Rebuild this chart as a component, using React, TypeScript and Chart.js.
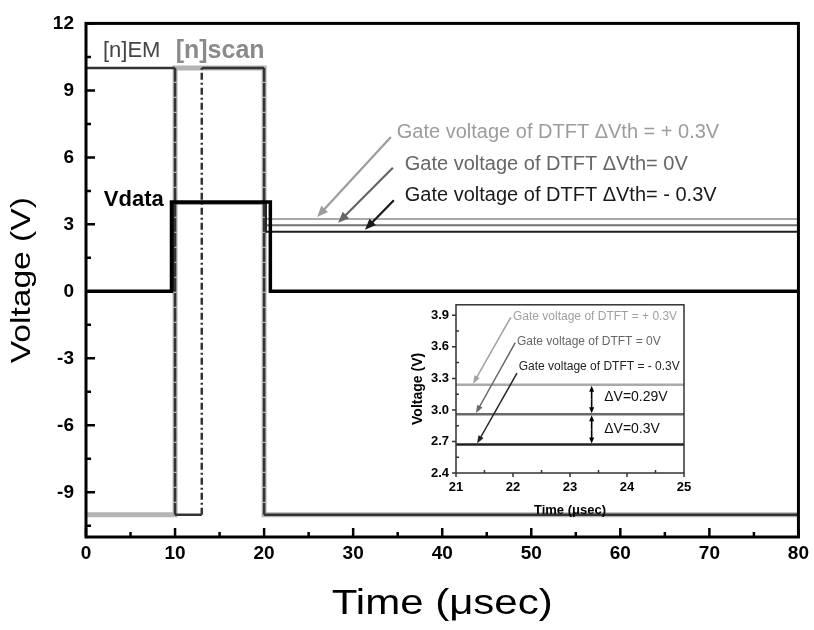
import React, { useEffect, useRef } from 'react';
import { Chart, registerables } from 'chart.js';

Chart.register(...registerables);

const FONT = '"Liberation Sans", Arial, Helvetica, sans-serif';

// ---------- main chart data ----------
const emTime = [0, 10, 10, 13, 13, 20, 20, 80];
const emVolt = [10, 10, -10, -10, 10, 10, -10, -10];
const scanTime = [0, 10, 10, 20, 20, 80];
const scanVolt = [-10, -10, 10, 10, -10, -10];
const vdataTime = [0, 9.6, 9.6, 20.7, 20.7, 80];
const vdataVolt = [0, 0, 4, 4, 0, 0];
const gateTime = [9.8, 9.8, 20.2, 20.2, 80];
const gatePlusVolt = [0, 3.95, 3.95, 3.24, 3.24];
const gateZeroVolt = [0, 3.95, 3.95, 2.96, 2.96];
const gateMinusVolt = [0, 3.95, 3.95, 2.67, 2.67];

const xMajorTicks = [0, 10, 20, 30, 40, 50, 60, 70, 80];
const xMinorTicks = [5, 15, 25, 35, 45, 55, 65, 75];
const yMajorTicks = [-9, -6, -3, 0, 3, 6, 9, 12];
const yMinorTicks = [-10.5, -7.5, -4.5, -1.5, 1.5, 4.5, 7.5, 10.5];

// ---------- inset data ----------
const insetTime = [21, 25];
const insetPlusVolt = [3.24, 3.24];
const insetZeroVolt = [2.96, 2.96];
const insetMinusVolt = [2.67, 2.67];
const insetXTicks = [21, 22, 23, 24, 25];
const insetXMinor = [21.5, 22.5, 23.5, 24.5];
const insetYTicks = [2.4, 2.7, 3.0, 3.3, 3.6, 3.9];
const insetYMinor = [2.55, 2.85, 3.15, 3.45, 3.75];
const deltaTime = 23.38;

const COL_LIGHT = '#a8a8a8';
const COL_MID = '#707070';
const COL_DARK = '#1e1e1e';

function pts(xs: number[], ys: number[]) {
  return xs.map((x, i) => ({ x, y: ys[i] }));
}

function arrow(
  ctx: CanvasRenderingContext2D,
  x1: number, y1: number, x2: number, y2: number,
  color: string, lw: number, hl: number, hw: number
) {
  const a = Math.atan2(y2 - y1, x2 - x1);
  const c = Math.cos(a), s = Math.sin(a);
  ctx.save();
  ctx.strokeStyle = color;
  ctx.fillStyle = color;
  ctx.lineWidth = lw;
  ctx.beginPath();
  ctx.moveTo(x1, y1);
  ctx.lineTo(x2 - c * hl * 0.8, y2 - s * hl * 0.8);
  ctx.stroke();
  ctx.beginPath();
  ctx.moveTo(x2, y2);
  ctx.lineTo(x2 - c * hl + s * hw, y2 - s * hl - c * hw);
  ctx.lineTo(x2 - c * hl - s * hw, y2 - s * hl + c * hw);
  ctx.closePath();
  ctx.fill();
  ctx.restore();
}

function wideText(ctx: CanvasRenderingContext2D, text: string, x: number, y: number, font: string, sx: number, rot: number) {
  ctx.save();
  ctx.translate(x, y);
  ctx.rotate(rot);
  ctx.scale(sx, 1);
  ctx.font = font;
  ctx.textAlign = 'center';
  ctx.textBaseline = 'middle';
  ctx.fillText(text, 0, 0);
  ctx.restore();
}

const mainNotes = [
  { text: 'Gate voltage of DTFT \u0394Vth = + 0.3V', x: 34.9, y: 7.13, color: '#9c9c9c', ax1: 34.24, ay1: 6.91, ax2: 25.96, ay2: 3.33 },
  { text: 'Gate voltage of DTFT \u0394Vth= 0V', x: 35.8, y: 5.67, color: '#666666', ax1: 34.46, ay1: 5.54, ax2: 28.31, ay2: 3.07 },
  { text: 'Gate voltage of DTFT \u0394Vth= - 0.3V', x: 35.8, y: 4.3, color: '#1a1a1a', ax1: 34.57, ay1: 4.08, ax2: 31.33, ay2: 2.76 },
];

const insetNotes = [
  { text: 'Gate voltage of DTFT = + 0.3V', x: 22.0, y: 3.89, color: '#a0a0a0', ax1: 21.96, ay1: 3.88, ax2: 21.3, ay2: 3.25 },
  { text: 'Gate voltage of DTFT = 0V', x: 22.07, y: 3.647, color: '#666666', ax1: 22.04, ay1: 3.64, ax2: 21.35, ay2: 2.97 },
  { text: 'Gate voltage of DTFT = - 0.3V', x: 22.1, y: 3.414, color: '#222222', ax1: 22.07, ay1: 3.35, ax2: 21.37, ay2: 2.68 },
];

const mainPlugin = {
  id: 'mainDecor',
  afterDraw(chart: any) {
    const { ctx, chartArea: a, scales } = chart;
    const xs = scales.x, ys = scales.y;
    ctx.save();
    // frame
    ctx.strokeStyle = '#000';
    ctx.lineWidth = 3;
    ctx.strokeRect(a.left, a.top, a.right - a.left, a.bottom - a.top);
    // ticks
    ctx.lineWidth = 2.5;
    ctx.beginPath();
    xMajorTicks.forEach((v) => { const p = xs.getPixelForValue(v); ctx.moveTo(p, a.bottom); ctx.lineTo(p, a.bottom - 9); });
    xMinorTicks.forEach((v) => { const p = xs.getPixelForValue(v); ctx.moveTo(p, a.bottom); ctx.lineTo(p, a.bottom - 5); });
    yMajorTicks.forEach((v) => { const p = ys.getPixelForValue(v); ctx.moveTo(a.left, p); ctx.lineTo(a.left + 9, p); });
    yMinorTicks.forEach((v) => { const p = ys.getPixelForValue(v); ctx.moveTo(a.left, p); ctx.lineTo(a.left + 5, p); });
    ctx.stroke();

    // labels
    ctx.textBaseline = 'middle';
    ctx.textAlign = 'left';
    ctx.font = `22px ${FONT}`;
    ctx.fillStyle = '#444';
    ctx.fillText('[n]EM', xs.getPixelForValue(1.9), ys.getPixelForValue(10.76));
    ctx.font = `bold 25px ${FONT}`;
    ctx.fillStyle = '#8a8a8a';
    ctx.fillText('[n]scan', xs.getPixelForValue(10.07), ys.getPixelForValue(10.76));
    ctx.font = `bold 22px ${FONT}`;
    ctx.fillStyle = '#000';
    ctx.fillText('Vdata', xs.getPixelForValue(2.0), ys.getPixelForValue(4.08));

    ctx.font = `20px ${FONT}`;
    mainNotes.forEach((n) => {
      ctx.fillStyle = n.color;
      ctx.fillText(n.text, xs.getPixelForValue(n.x), ys.getPixelForValue(n.y));
      arrow(ctx, xs.getPixelForValue(n.ax1), ys.getPixelForValue(n.ay1), xs.getPixelForValue(n.ax2), ys.getPixelForValue(n.ay2), n.color, 2.2, 11, 4.5);
    });

    // axis titles
    ctx.fillStyle = '#000';
    wideText(ctx, 'Time (\u03bcsec)', (a.left + a.right) / 2, 604, `35px ${FONT}`, 1.2, 0);
    wideText(ctx, 'Voltage (V)', 22, (a.top + a.bottom) / 2, `28px ${FONT}`, 1.2, -Math.PI / 2);
    ctx.restore();
  },
};

const insetPlugin = {
  id: 'insetDecor',
  afterDraw(chart: any) {
    const { ctx, chartArea: a, scales } = chart;
    const xs = scales.x, ys = scales.y;
    ctx.save();
    ctx.strokeStyle = '#333';
    ctx.lineWidth = 1.5;
    ctx.strokeRect(a.left, a.top, a.right - a.left, a.bottom - a.top);
    ctx.beginPath();
    insetXTicks.forEach((v) => { const p = xs.getPixelForValue(v); ctx.moveTo(p, a.bottom); ctx.lineTo(p, a.bottom + 4); });
    insetXMinor.forEach((v) => { const p = xs.getPixelForValue(v); ctx.moveTo(p, a.bottom); ctx.lineTo(p, a.bottom - 3); });
    insetYTicks.forEach((v) => { const p = ys.getPixelForValue(v); ctx.moveTo(a.left, p); ctx.lineTo(a.left - 4, p); });
    insetYMinor.forEach((v) => { const p = ys.getPixelForValue(v); ctx.moveTo(a.left, p); ctx.lineTo(a.left + 3, p); });
    ctx.stroke();

    ctx.textBaseline = 'middle';
    ctx.textAlign = 'left';
    ctx.font = `12px ${FONT}`;
    insetNotes.forEach((n) => {
      ctx.fillStyle = n.color;
      ctx.fillText(n.text, xs.getPixelForValue(n.x), ys.getPixelForValue(n.y));
      arrow(ctx, xs.getPixelForValue(n.ax1), ys.getPixelForValue(n.ay1), xs.getPixelForValue(n.ax2), ys.getPixelForValue(n.ay2), n.color, 1.5, 8, 3);
    });

    // delta V double arrows
    const px = xs.getPixelForValue(deltaTime);
    const pairs = [[insetPlusVolt[0], insetZeroVolt[0]], [insetZeroVolt[0], insetMinusVolt[0]]];
    pairs.forEach(([hi, lo]) => {
      const yh = ys.getPixelForValue(hi), yl = ys.getPixelForValue(lo);
      const mid = (yh + yl) / 2;
      arrow(ctx, px, mid, px, yh + 1, '#000', 1.6, 6, 2.5);
      arrow(ctx, px, mid, px, yl - 1, '#000', 1.6, 6, 2.5);
    });
    ctx.fillStyle = '#111';
    ctx.font = `14px ${FONT}`;
    ctx.fillText('\u0394V=0.29V', xs.getPixelForValue(23.6), ys.getPixelForValue(3.12));
    ctx.fillText('\u0394V=0.3V', xs.getPixelForValue(23.6), ys.getPixelForValue(2.82));

    ctx.fillStyle = '#000';
    wideText(ctx, 'Time (\u03bcsec)', (a.left + a.right) / 2, a.bottom + 37, `bold 13px ${FONT}`, 1.0, 0);
    wideText(ctx, 'Voltage (V)', 18, (a.top + a.bottom) / 2, `bold 14px ${FONT}`, 1.0, -Math.PI / 2);
    ctx.restore();
  },
};

function lineDs(data: any[], color: string, width: number, order: number, extra: any = {}) {
  return {
    data,
    borderColor: color,
    borderWidth: width,
    pointRadius: 0,
    fill: false,
    tension: 0,
    order,
    borderJoinStyle: 'miter' as const,
    ...extra,
  };
}

export default function App() {
  const mainRef = useRef<HTMLCanvasElement>(null);
  const insetRef = useRef<HTMLCanvasElement>(null);

  useEffect(() => {
    const main = new Chart(mainRef.current as HTMLCanvasElement, {
      type: 'line',
      data: {
        datasets: [
          lineDs(pts(vdataTime, vdataVolt), '#000', 3.5, 1),
          lineDs(pts(emTime, emVolt), '#333', 2.5, 2, {
            segment: {
              borderDash: (c: any) => (c.p0.parsed.x === c.p1.parsed.x ? [7, 3, 2, 3] : undefined),
            },
          }),
          lineDs(pts(gateTime, gateMinusVolt), COL_DARK, 2, 3),
          lineDs(pts(gateTime, gateZeroVolt), COL_MID, 2, 4),
          lineDs(pts(gateTime, gatePlusVolt), COL_LIGHT, 2, 5),
          lineDs(pts(scanTime, scanVolt), '#b4b4b4', 5, 6),
        ] as any,
      },
      options: {
        responsive: false,
        animation: false,
        layout: { padding: { top: 17, right: 13, left: 0, bottom: 0 } },
        plugins: { legend: { display: false }, tooltip: { enabled: false } },
        scales: {
          x: {
            type: 'linear',
            min: 0,
            max: 80,
            grid: { display: false, drawTicks: false },
            border: { display: false },
            afterBuildTicks: (s: any) => { s.ticks = xMajorTicks.map((v) => ({ value: v })); },
            afterFit: (s: any) => { s.height = 93; },
            ticks: { color: '#000', font: { family: FONT, size: 19, weight: 'bold' }, padding: 5, maxRotation: 0, autoSkip: false },
          },
          y: {
            type: 'linear',
            min: -11,
            max: 12,
            grid: { display: false, drawTicks: false },
            border: { display: false },
            afterBuildTicks: (s: any) => { s.ticks = yMajorTicks.map((v) => ({ value: v })); },
            afterFit: (s: any) => { s.width = 86; },
            ticks: { color: '#000', font: { family: FONT, size: 19, weight: 'bold' }, padding: 12, autoSkip: false },
          },
        },
      } as any,
      plugins: [mainPlugin],
    });

    const inset = new Chart(insetRef.current as HTMLCanvasElement, {
      type: 'line',
      data: {
        datasets: [
          lineDs(pts(insetTime, insetMinusVolt), '#222', 2.5, 1),
          lineDs(pts(insetTime, insetZeroVolt), '#6a6a6a', 2.5, 2),
          lineDs(pts(insetTime, insetPlusVolt), '#aaaaaa', 2.5, 3),
        ] as any,
      },
      options: {
        responsive: false,
        animation: false,
        layout: { padding: { top: 11, right: 16, left: 0, bottom: 0 } },
        plugins: { legend: { display: false }, tooltip: { enabled: false } },
        scales: {
          x: {
            type: 'linear',
            min: 21,
            max: 25,
            grid: { display: false, drawTicks: false },
            border: { display: false },
            afterBuildTicks: (s: any) => { s.ticks = insetXTicks.map((v) => ({ value: v })); },
            afterFit: (s: any) => { s.height = 57; },
            ticks: { color: '#000', font: { family: FONT, size: 13, weight: 'bold' }, padding: 7, maxRotation: 0, autoSkip: false },
          },
          y: {
            type: 'linear',
            min: 2.4,
            max: 4.0,
            grid: { display: false, drawTicks: false },
            border: { display: false },
            afterBuildTicks: (s: any) => { s.ticks = insetYTicks.map((v) => ({ value: v })); },
            afterFit: (s: any) => { s.width = 56; },
            ticks: { color: '#000', font: { family: FONT, size: 13, weight: 'bold' }, padding: 7, autoSkip: false, callback: (v: any) => Number(v).toFixed(1) },
          },
        },
      } as any,
      plugins: [insetPlugin],
    });

    return () => {
      main.destroy();
      inset.destroy();
    };
  }, []);

  return (
    <div style={{ position: 'fixed', left: 0, top: 0, width: 814, height: 630, background: '#fff' }}>
      <canvas ref={mainRef} width={814} height={630} style={{ position: 'absolute', left: 0, top: 0 }} />
      <canvas ref={insetRef} width={300} height={240} style={{ position: 'absolute', left: 400, top: 290 }} />
    </div>
  );
}
